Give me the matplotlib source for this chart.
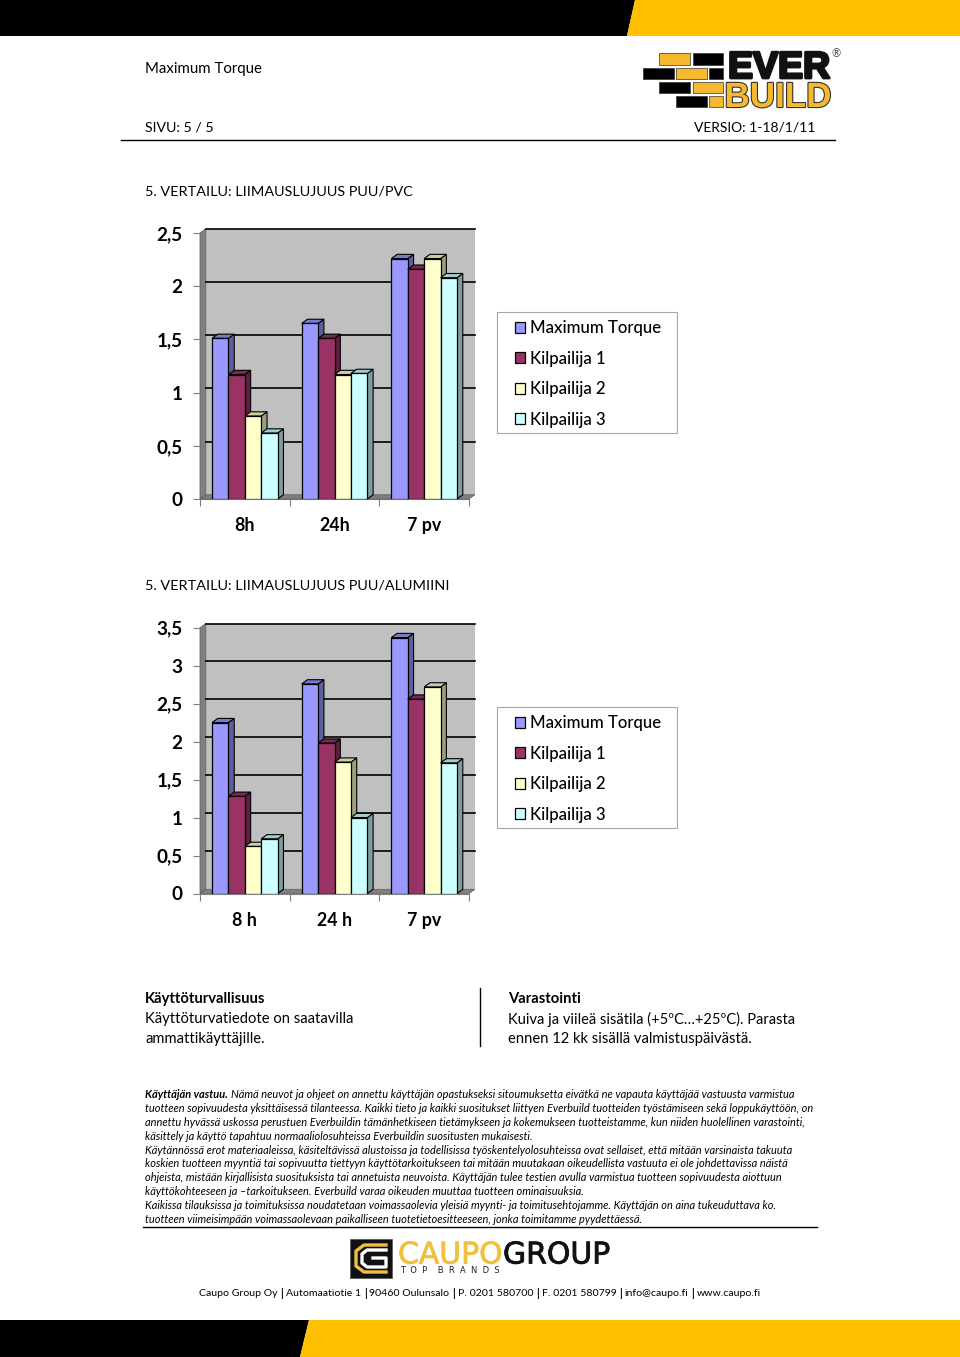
import matplotlib
matplotlib.use('Agg')
import matplotlib.pyplot as plt
import matplotlib.patheffects as pe
from matplotlib.colors import to_rgb
from matplotlib.patches import Polygon, Rectangle

plt.rcParams['font.family'] = ['Lato', 'DejaVu Sans']

W, H = 960, 1357

series_names = ['Maximum Torque', 'Kilpailija 1', 'Kilpailija 2', 'Kilpailija 3']
series_colors = ['#9999FF', '#993366', '#FFFFCC', '#CCFFFF']

# liimauslujuus puu/pvc
categories_pvc = ['8h', '24h', '7 pv']
torque_pvc = [1.51, 1.65, 2.26]
kilpailija1_pvc = [1.17, 1.51, 2.16]
kilpailija2_pvc = [0.78, 1.17, 2.26]
kilpailija3_pvc = [0.62, 1.18, 2.08]
ticks_pvc = [0, 0.5, 1, 1.5, 2, 2.5]
ticklabels_pvc = ['0', '0,5', '1', '1,5', '2', '2,5']

# liimauslujuus puu/alumiini
categories_alu = ['8 h', '24 h', '7 pv']
torque_alu = [2.25, 2.76, 3.37]
kilpailija1_alu = [1.28, 1.98, 2.56]
kilpailija2_alu = [0.62, 1.73, 2.72]
kilpailija3_alu = [0.72, 1.00, 1.72]
ticks_alu = [0, 0.5, 1, 1.5, 2, 2.5, 3, 3.5]
ticklabels_alu = ['0', '0,5', '1', '1,5', '2', '2,5', '3', '3,5']

vastuu_lines = [
    'tuotteen sopivuudesta yksittäisessä tilanteessa. Kaikki tieto ja kaikki suositukset liittyen Everbuild tuotteiden työstämiseen sekä loppukäyttöön, on',
    'annettu hyvässä uskossa perustuen Everbuildin tämänhetkiseen tietämykseen ja kokemukseen tuotteistamme, kun niiden huolellinen varastointi,',
    'käsittely ja käyttö tapahtuu normaaliolosuhteissa Everbuildin suositusten mukaisesti.',
    'Käytännössä erot materiaaleissa, käsiteltävissä alustoissa ja todellisissa työskentelyolosuhteissa ovat sellaiset, että mitään varsinaista takuuta',
    'koskien tuotteen myyntiä tai sopivuutta tiettyyn käyttötarkoitukseen tai mitään muutakaan oikeudellista vastuuta ei ole johdettavissa näistä',
    'ohjeista, mistään kirjallisista suosituksista tai annetuista neuvoista. Käyttäjän tulee testien avulla varmistua tuotteen sopivuudesta aiottuun',
    'käyttökohteeseen ja –tarkoitukseen. Everbuild varaa oikeuden muuttaa tuotteen ominaisuuksia.',
    'Kaikissa tilauksissa ja toimituksissa noudatetaan voimassaolevia yleisiä myynti- ja toimitusehtojamme. Käyttäjän on aina tukeuduttava ko.',
    'tuotteen viimeisimpään voimassaolevaan paikalliseen tuotetietoesitteeseen, jonka toimitamme pyydettäessä.',
]

footer_parts = ['Caupo Group Oy', 'Automaatiotie 1', '90460 Oulunsalo', 'P. 0201 580700',
                'F. 0201 580799', 'info@caupo.fi', 'www.caupo.fi']


def shade(color, k):
    return tuple(c * k for c in to_rgb(color))


def draw_chart(fig, page, y_top, y_zero, categories, values, ticks, ticklabels, legend_top):
    # akselit pikseleinä: 200..469 vaakaan
    ax = fig.add_axes([200 / W, 1 - y_zero / H, 269 / W, (y_zero - y_top) / H])
    ax.patch.set_alpha(0)
    ymax = ticks[-1]
    ax.set_xlim(0, 3)
    ax.set_ylim(0, ymax)

    # 3d-syvyys data-yksikköinä
    dx = 5.8 * 3 / 269
    dy = 4.2 * ymax / (y_zero - y_top)

    ax.add_patch(Polygon([(dx, dy), (3 + dx, dy), (3 + dx, ymax + dy), (dx, ymax + dy)],
                         fc='#C0C0C0', ec='none', clip_on=False, zorder=1))
    ax.add_patch(Polygon([(0, 0), (dx, dy), (dx, ymax + dy), (0, ymax)],
                         fc='#808080', ec='#555555', lw=0.5, clip_on=False, zorder=1))
    ax.add_patch(Polygon([(0, 0), (dx, dy), (3 + dx, dy), (3, 0)],
                         fc='#808080', ec='#555555', lw=0.5, clip_on=False, zorder=1))
    for t in ticks[1:]:
        ax.plot([dx, 3 + dx], [t + dy, t + dy], color='black', lw=1.2, clip_on=False, zorder=2)

    bar_w = 0.183
    for i, (vals, color) in enumerate(zip(values, series_colors)):
        for j, v in enumerate(vals):
            x0 = j + 0.5 + (i - 2) * bar_w
            x1 = x0 + bar_w
            z = 3 + i * 2 + j * 10
            ax.add_patch(Polygon([(x1, 0), (x1 + dx, dy), (x1 + dx, v + dy), (x1, v)],
                                 fc=shade(color, 0.62), ec='black', lw=0.8, clip_on=False, zorder=z))
            ax.add_patch(Polygon([(x0, v), (x0 + dx, v + dy), (x1 + dx, v + dy), (x1, v)],
                                 fc=shade(color, 0.8), ec='black', lw=0.8, clip_on=False, zorder=z))
            ax.bar(x0, v, bar_w, align='edge', color=color, edgecolor='black', lw=0.9, zorder=z + 1)

    for s in ['top', 'right']:
        ax.spines[s].set_visible(False)
    for s in ['left', 'bottom']:
        ax.spines[s].set_color('#808080')
        ax.spines[s].set_linewidth(0.8)
        ax.spines[s].set_zorder(0)
    ax.set_yticks(ticks)
    ax.set_yticklabels(ticklabels, fontsize=13.6, fontweight='bold')
    ax.set_xticks([0, 1, 2, 3])
    ax.set_xticklabels([])
    ax.set_xticks([0.5, 1.5, 2.5], categories, minor=True, fontsize=12.8, fontweight='bold')
    ax.tick_params(axis='y', length=5, width=0.8, color='#808080', pad=7.5)
    ax.tick_params(axis='x', which='major', length=5, width=0.8, color='#808080')
    ax.tick_params(axis='x', which='minor', length=0, pad=13)

    # kehys erikseen, selite sen sisään
    page.add_patch(Rectangle((497, legend_top), 180, 121, fc='white', ec='#A6A6A6', lw=0.8))
    handles = [Rectangle((0, 0), 1, 1, fc=c, ec='black', lw=0.9) for c in series_colors]
    ax.legend(handles, series_names, loc='upper left',
              bbox_to_anchor=(515 / W, 1 - (legend_top + 8) / H), bbox_transform=fig.transFigure,
              frameon=False, prop={'size': 12.05, 'weight': 'medium'},
              handlelength=0.62, handleheight=0.62, handletextpad=0.28,
              labelspacing=0.87, borderpad=0, borderaxespad=0)
    return ax


def draw_everbuild(ax):
    yellow = '#F5B82E'
    bricks = [(659, 53, 31, 12, yellow), (693, 53, 30, 12, 'black'),
              (643, 68, 31, 11, 'black'), (676, 68, 31, 11, yellow), (709, 68, 14, 11, 'black'),
              (659, 82, 31, 11, 'black'), (693, 82, 30, 11, yellow),
              (676, 96, 31, 11, 'black'), (709, 96, 14, 11, yellow)]
    for x, y, w, h, c in bricks:
        ax.add_patch(Rectangle((x, y), w, h, fc=c, ec='#333333', lw=0.5))
    ax.text(779, 78, 'EVER', fontsize=27, fontweight='bold', family='Liberation Sans', ha='center', va='baseline',
            color='#111111', path_effects=[pe.withStroke(linewidth=2, foreground='#111111')])
    ax.text(778, 107, 'BUILD', fontsize=25.2, fontweight='bold', family='Liberation Sans', ha='center', va='baseline',
            color=yellow, path_effects=[pe.withStroke(linewidth=1.6, foreground='#333333')])
    ax.text(836, 54, '®', fontsize=8, ha='center', va='center', color='#444444')


def draw_caupo(ax):
    yellow = '#F0C040'
    ax.add_patch(Rectangle((350, 1239), 42, 39, fc='#111111', ec='#555555', lw=0.5))
    ax.plot([386, 364, 356, 356, 364, 386], [1245, 1245, 1251, 1266, 1272, 1272], color=yellow, lw=2.4)
    ax.plot([386, 367, 362, 362, 367, 386, 386, 373], [1250, 1250, 1254, 1263, 1267, 1267, 1258, 1258],
            color='white', lw=2.4)
    ax.text(398, 1255, 'CAUPO', fontsize=21.5, family='DejaVu Sans', va='center', color=yellow,
            path_effects=[pe.withStroke(linewidth=0.6, foreground=yellow)])
    ax.text(503, 1255, 'GROUP', fontsize=21.5, family='DejaVu Sans', va='center', color='#111111',
            path_effects=[pe.withStroke(linewidth=0.6, foreground='#111111')])
    ax.text(400, 1270.5, 'T  O  P    B  R  A  N  D  S', fontsize=6, family='DejaVu Sans', va='center', color='#222222')


def draw_footer(fig, ax, y):
    # pystyviivat lihavoituna, siksi pala kerrallaan
    renderer = fig.canvas.get_renderer()
    x = 199
    for i, part in enumerate(footer_parts):
        t = ax.text(x, y, part, fontsize=7.55, va='center')
        x = t.get_window_extent(renderer).x1 + 2.8
        if i < len(footer_parts) - 1:
            b = ax.text(x, y, '|', fontsize=7.9, fontweight='bold', va='center')
            x = b.get_window_extent(renderer).x1 + 2.8


def draw_page(fig):
    ax = fig.add_axes([0, 0, 1, 1])
    ax.set_xlim(0, W)
    ax.set_ylim(H, 0)
    ax.axis('off')

    # ylä- ja alapalkit
    ax.add_patch(Polygon([(0, 0), (635, 0), (627, 36), (0, 36)], fc='black', ec='none'))
    ax.add_patch(Polygon([(635, 0), (960, 0), (960, 36), (627, 36)], fc='#FFC000', ec='none'))
    ax.add_patch(Polygon([(0, 1320), (309, 1320), (300, 1357), (0, 1357)], fc='black', ec='none'))
    ax.add_patch(Polygon([(309, 1320), (960, 1320), (960, 1357), (300, 1357)], fc='#FFC000', ec='none'))
    ax.plot([0, 300], [1356.5, 1356.5], color='#777777', lw=0.8)
    ax.plot([300, 317], [1356.5, 1356.5], color='#8A7020', lw=0.8)

    body = 10.6
    ax.text(145, 69, 'Maximum Torque', fontsize=10.8, va='center')
    ax.text(145, 128, 'SIVU: 5 / 5', fontsize=10.2, va='center')
    ax.text(815, 128, 'VERSIO: 1-18/1/11', fontsize=10, va='center', ha='right')
    ax.plot([121, 835], [140, 140], color='black', lw=1)
    ax.text(145, 191, '5. VERTAILU: LIIMAUSLUJUUS PUU/PVC', fontsize=10.35, va='center')
    ax.text(145, 586, '5. VERTAILU: LIIMAUSLUJUUS PUU/ALUMIINI', fontsize=10.4, va='center')

    ax.text(145, 999, 'Käyttöturvallisuus', fontsize=body, fontweight='bold', va='center')
    ax.text(145, 1019, 'Käyttöturvatiedote on saatavilla', fontsize=body, va='center')
    ax.text(145, 1039, 'ammattikäyttäjille.', fontsize=body, va='center')
    ax.plot([480, 480], [988, 1046], color='black', lw=1)
    ax.text(508, 999, 'Varastointi', fontsize=body, fontweight='bold', va='center')
    ax.text(508, 1019, 'Kuiva ja viileä sisätila (+5ºC…+25ºC). Parasta', fontsize=10.5, va='center')
    ax.text(508, 1039, 'ennen 12 kk sisällä valmistuspäivästä.', fontsize=body, va='center')

    small = 7.9
    ax.text(145, 1095, 'Käyttäjän vastuu.', fontsize=small, fontweight='bold', style='italic', va='center')
    ax.text(231, 1095, 'Nämä neuvot ja ohjeet on annettu käyttäjän opastukseksi sitoumuksetta eivätkä ne vapauta käyttäjää vastuusta varmistua',
            fontsize=small, style='italic', va='center')
    for i, line in enumerate(vastuu_lines):
        ax.text(145, 1108.7 + i * 13.8, line, fontsize=small, style='italic', va='center')
    ax.plot([143, 817], [1227, 1227], color='black', lw=1)

    draw_footer(fig, ax, 1293.5)
    draw_everbuild(ax)
    draw_caupo(ax)
    return ax


fig = plt.figure(figsize=(9.6, 13.57), dpi=100)
page = draw_page(fig)
draw_chart(fig, page, 233, 499, categories_pvc,
           [torque_pvc, kilpailija1_pvc, kilpailija2_pvc, kilpailija3_pvc],
           ticks_pvc, ticklabels_pvc, 312)
draw_chart(fig, page, 627.7, 893.5, categories_alu,
           [torque_alu, kilpailija1_alu, kilpailija2_alu, kilpailija3_alu],
           ticks_alu, ticklabels_alu, 707)
fig.savefig('out.png', dpi=100)
